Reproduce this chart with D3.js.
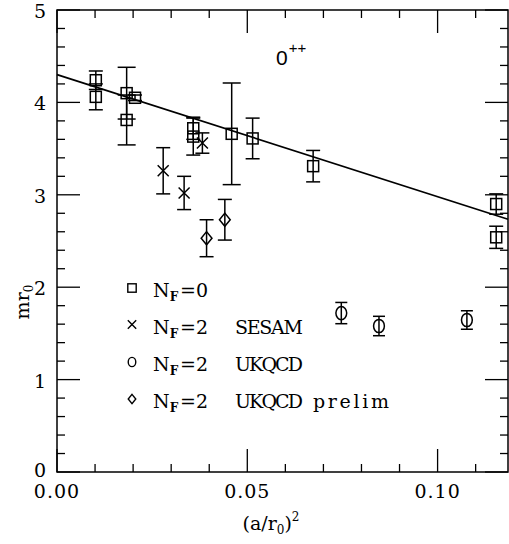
<!DOCTYPE html>
<html>
<head>
<meta charset="utf-8">
<script src="https://cdn.jsdelivr.net/npm/d3@7"></script>
<style>
  body { margin: 0; background: #fff; }
  text { font-family: "DejaVu Serif", serif; fill: #000; }
</style>
</head>
<body>
<div id="chart"></div>
<script>
// N_F=0 points (squares)
var nf0X = [0.0102, 0.0102, 0.0183, 0.0183, 0.0205, 0.0358, 0.0358, 0.0459, 0.0514, 0.0673, 0.1154, 0.1154];
var nf0Y = [4.24, 4.06, 4.10, 3.81, 4.05, 3.72, 3.63, 3.66, 3.61, 3.31, 2.90, 2.54];
var nf0Err = [0.10, 0.14, 0.28, 0.27, 0.03, 0.12, 0.20, 0.55, 0.22, 0.17, 0.11, 0.12];
// N_F=2 SESAM (crosses)
var sesamX = [0.0279, 0.0334, 0.0382];
var sesamY = [3.26, 3.02, 3.56];
var sesamErr = [0.25, 0.18, 0.11];
// N_F=2 UKQCD (circles)
var ukqcdX = [0.0747, 0.0846, 0.1077];
var ukqcdY = [1.72, 1.58, 1.645];
var ukqcdErr = [0.115, 0.105, 0.10];
// N_F=2 UKQCD prelim (diamonds)
var prelimX = [0.0393, 0.0441];
var prelimY = [2.53, 2.73];
var prelimErr = [0.20, 0.22];
// straight-line fit to N_F=0
var fitIntercept = 4.30, fitSlope = -13.2;

var xMajor = [0, 0.05, 0.10];
var xMajorLabels = ["0.00", "0.05", "0.10"];
var yMajor = [0, 1, 2, 3, 4, 5];
var legendLabels = ["0", "2 SESAM", "2 UKQCD", "2 UKQCD prelim"];

var width = 509, height = 544;
var margin = {top: 10, right: 1, bottom: 72, left: 57};
var xMax = 0.1185;

var x = d3.scaleLinear().domain([0, xMax]).range([margin.left, width - margin.right]);
var y = d3.scaleLinear().domain([0, 5]).range([height - margin.bottom, margin.top]);

var svg = d3.select("#chart").append("svg")
  .attr("width", width)
  .attr("height", height);

// frame
svg.append("rect")
  .attr("x", x(0)).attr("y", y(5))
  .attr("width", x(xMax) - x(0)).attr("height", y(0) - y(5))
  .attr("fill", "none").attr("stroke", "#000").attr("stroke-width", 1.5);

// ticks, drawn inward on all four sides
var ticks = svg.append("g").attr("stroke", "#000").attr("stroke-width", 1.3);
d3.range(0, 12).forEach(function(i) {
  var v = i / 100;
  var len = (i % 5 == 0) ? 23 : 8;
  ticks.append("line").attr("x1", x(v)).attr("x2", x(v)).attr("y1", y(0)).attr("y2", y(0) - len);
  ticks.append("line").attr("x1", x(v)).attr("x2", x(v)).attr("y1", y(5)).attr("y2", y(5) + len);
});
d3.range(0, 26).forEach(function(i) {
  var v = i / 5;
  var len = (i % 5 == 0) ? 23 : 8;
  ticks.append("line").attr("y1", y(v)).attr("y2", y(v)).attr("x1", x(0)).attr("x2", x(0) + len);
  ticks.append("line").attr("y1", y(v)).attr("y2", y(v)).attr("x1", x(xMax)).attr("x2", x(xMax) - len);
});

// tick labels
svg.selectAll(".xlab").data(xMajor).enter().append("text")
  .attr("x", function(d) { return x(d); })
  .attr("y", y(0) + 26)
  .attr("text-anchor", "middle")
  .attr("font-size", 19)
  .attr("letter-spacing", 1)
  .text(function(d, i) { return xMajorLabels[i]; });

svg.selectAll(".ylab").data(yMajor).enter().append("text")
  .attr("x", 46)
  .attr("y", function(d) { return y(d) + (d == 0 ? 5 : 8); })
  .attr("text-anchor", "end")
  .attr("font-size", 19)
  .text(function(d) { return d; });

// axis titles
var xt = svg.append("text")
  .attr("x", 271).attr("y", 530)
  .attr("text-anchor", "middle")
  .attr("font-size", 19);
xt.append("tspan").text("(a/r");
xt.append("tspan").attr("font-size", 12).attr("dy", 4).text("0");
xt.append("tspan").attr("dy", -4).text(")");
xt.append("tspan").attr("font-size", 12).attr("dy", -9).text("2");

var yt = svg.append("text")
  .attr("transform", "translate(29,302) rotate(-90)")
  .attr("text-anchor", "middle")
  .attr("font-size", 19);
yt.append("tspan").text("mr");
yt.append("tspan").attr("font-size", 12).attr("dy", 4).text("0");

// 0++ label
var st = svg.append("text")
  .attr("x", 276).attr("y", 65)
  .style("font-family", "'Liberation Sans', Arial, sans-serif")
  .attr("font-size", 21);
st.append("tspan").text("0");
st.append("tspan").attr("font-size", 15).attr("dx", 1).attr("dy", -12).text("++");

// fit line
svg.append("line")
  .attr("x1", x(0)).attr("y1", y(fitIntercept))
  .attr("x2", x(xMax)).attr("y2", y(fitIntercept + fitSlope * xMax))
  .attr("stroke", "#000").attr("stroke-width", 1.7);

// symbol drawers
function drawSymbol(g, kind, cx, cy, s) {
  if (kind == "square") {
    g.append("rect").attr("x", cx - s).attr("y", cy - s).attr("width", 2 * s).attr("height", 2 * s);
  } else if (kind == "cross") {
    g.append("path").attr("d", "M" + (cx - s) + "," + (cy - s) + "L" + (cx + s) + "," + (cy + s) +
      "M" + (cx - s) + "," + (cy + s) + "L" + (cx + s) + "," + (cy - s));
  } else if (kind == "circle") {
    g.append("ellipse").attr("cx", cx).attr("cy", cy).attr("rx", s * 0.9).attr("ry", s * 1.1);
  } else if (kind == "diamond") {
    g.append("path").attr("d", "M" + cx + "," + (cy - s * 1.1) + "L" + (cx + s * 0.9) + "," + cy +
      "L" + cx + "," + (cy + s * 1.1) + "L" + (cx - s * 0.9) + "," + cy + "Z");
  }
}

function drawSeries(xs, ys, es, kind, size, cap) {
  var g = svg.append("g").attr("fill", "none").attr("stroke", "#000").attr("stroke-width", 1.5);
  xs.forEach(function(xv, i) {
    var cx = x(xv), top = y(ys[i] + es[i]), bot = y(ys[i] - es[i]);
    // wider caps on the long bars, as in the original
    var c = es[i] > 0.25 ? cap + 2 : cap;
    g.append("line").attr("x1", cx).attr("x2", cx).attr("y1", top).attr("y2", bot);
    g.append("line").attr("x1", cx - c).attr("x2", cx + c).attr("y1", top).attr("y2", top);
    g.append("line").attr("x1", cx - c).attr("x2", cx + c).attr("y1", bot).attr("y2", bot);
    drawSymbol(g, kind, cx, y(ys[i]), size);
  });
}

drawSeries(nf0X, nf0Y, nf0Err, "square", 5.5, 7);
drawSeries(sesamX, sesamY, sesamErr, "cross", 5.5, 7);
drawSeries(ukqcdX, ukqcdY, ukqcdErr, "circle", 6, 6);
drawSeries(prelimX, prelimY, prelimErr, "diamond", 6, 7);

// legend
var kinds = ["square", "cross", "circle", "diamond"];
var legY = [288, 324.5, 362, 399];
var lg = svg.append("g");
kinds.forEach(function(k, i) {
  var sg = lg.append("g").attr("fill", "none").attr("stroke", "#000").attr("stroke-width", 1.4);
  drawSymbol(sg, k, 132, legY[i], 4.2);
  var t = lg.append("text").attr("x", 153).attr("y", legY[i] + 9).attr("font-size", 19);
  t.append("tspan").text("N");
  t.append("tspan").attr("font-size", 12).attr("font-weight", "bold").attr("dy", 4).text("F");
  var parts = legendLabels[i].split(" ");
  t.append("tspan").attr("dy", -4).attr("x", 180).text("=" + parts[0]);
  if (parts[1]) t.append("tspan").attr("x", 235).attr("textLength", 68).attr("lengthAdjust", "spacing").text(parts[1]);
  if (parts[2]) t.append("tspan").attr("x", 313).attr("textLength", 76).attr("lengthAdjust", "spacing").text(parts[2]);
});
</script>
</body>
</html>
